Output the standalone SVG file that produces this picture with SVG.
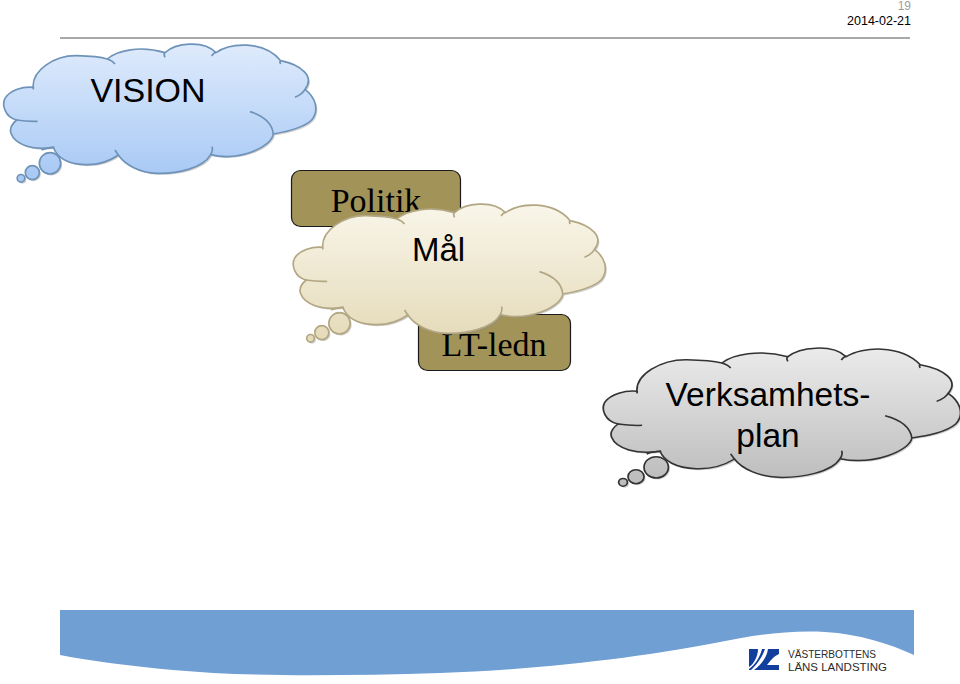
<svg xmlns="http://www.w3.org/2000/svg" xmlns:xlink="http://www.w3.org/1999/xlink" width="960" height="684" viewBox="0 0 960 684">
<style>
.sans{font-family:"Liberation Sans",Arial,sans-serif}
.serif{font-family:"Liberation Serif","Times New Roman",serif}
.lbl{text-anchor:middle;fill:#000}
.box{fill:#a29358;stroke:#1a1a1a;stroke-width:1.2}
.inner{fill:none}
.shadow{fill:#8a8a8a;stroke:none;opacity:.4}
</style>
<defs>
<linearGradient id="gBlue" gradientUnits="userSpaceOnUse" x1="0" y1="40" x2="0" y2="430"><stop offset="0" stop-color="#dfebfc"/><stop offset="1" stop-color="#a9caf5"/></linearGradient>
<linearGradient id="gBeige" gradientUnits="userSpaceOnUse" x1="0" y1="40" x2="0" y2="430"><stop offset="0" stop-color="#f9f6ea"/><stop offset="1" stop-color="#e6dcbc"/></linearGradient>
<linearGradient id="gGrey" gradientUnits="userSpaceOnUse" x1="0" y1="40" x2="0" y2="430"><stop offset="0" stop-color="#ebebeb"/><stop offset="1" stop-color="#bebebe"/></linearGradient>
<g id="cloudShape">
<path d="M100 178C92 120 165 76 230 77C270 78 305 82 322 87C350 62 420 45 495 68C525 40 610 28 648 68C690 38 790 30 842 92C905 105 945 140 915 178C945 200 960 240 935 270C910 295 860 305 820 312C815 350 720 395 632 374C610 415 530 432 470 430C420 428 375 405 355 375C320 400 280 405 255 404C200 402 170 380 160 352C100 362 45 345 33 310C28 295 38 280 50 270C15 262 5 225 15 205C30 180 70 168 100 172Z"/>
<circle cx="150" cy="400" r="32"/>
<circle cx="97" cy="428" r="21"/>
<circle cx="63" cy="445" r="11.5"/>
</g>
<g id="cloudInner" class="inner">
<path d="M885 202Q908 192 915 178"/>
<path d="M750 245Q815 265 820 312"/>
<path d="M632 374Q640 360 636 350"/>
<path d="M355 375Q348 365 345 360"/>
<path d="M163 352Q140 352 125 360"/>
<path d="M50 270Q80 275 113 274"/>
<path d="M322 87Q338 92 345 102"/>
<path d="M495 68Q490 72 495 82"/>
<path d="M648 66Q640 70 635 78"/>
<path d="M842 92Q838 95 842 102"/>
</g>
</defs>

<g id="connectors"></g>

<g id="header">
<line x1="60" y1="38" x2="910" y2="38" stroke="#a9a9a9" stroke-width="2"/>
<text class="sans" x="911" y="10" font-size="12" text-anchor="end" fill="#a0a0a0">19</text>
<text class="sans" x="911" y="25" font-size="12.500" text-anchor="end" fill="#000">2014-02-21</text>
</g>

<g id="footer">
<path d="M60 610H914V655C890 644 860 634 825 632C785 630 750 636 720 642C650 656 540 670 440 673C340 676 250 677 173 670C130 666 90 661 60 655Z" fill="#6f9fd3"/>
</g>

<g id="logo">
<path d="M749 649H758C758 656 754 664 749 667ZM762 649H765C763 656 756 666 751 670H749V669C755 665 760 657 762 649ZM768 649H779V654C774 656 770 661 767 665H779V670H754C761 665 767 657 768 649Z" fill="#123f9e"/>
<text class="sans" x="788" y="658" font-size="11" fill="#2b2b2b" textLength="88" lengthAdjust="spacingAndGlyphs">VÄSTERBOTTENS</text>
<text class="sans" x="788" y="671" font-size="11" fill="#2b2b2b" textLength="99" lengthAdjust="spacingAndGlyphs">LÄNS LANDSTING</text>
</g>

<g id="vision">
<g transform="translate(1.500,31.500) scale(.3333)"><use xlink:href="#cloudShape" href="#cloudShape" class="shadow"/></g>
<g transform="translate(0,30) scale(.3333)" fill="url(#gBlue)" stroke="#6f93b8" stroke-width="5"><use xlink:href="#cloudShape" href="#cloudShape"/><use xlink:href="#cloudInner" href="#cloudInner"/></g>
<text class="sans lbl" x="148" y="102" font-size="34">VISION</text>
</g>

<g id="politik">
<rect class="box" x="291.500" y="170.500" width="169" height="56" rx="9"/>
<text class="serif lbl" x="376" y="212" font-size="34">Politik</text>
</g>

<g id="lt-ledn">
<rect class="box" x="418.500" y="314.500" width="152" height="56" rx="9"/>
<text class="serif lbl" x="494" y="356" font-size="34">LT-ledn</text>
</g>

<g id="mal">
<g transform="translate(291,191.500) scale(.3333)"><use xlink:href="#cloudShape" href="#cloudShape" class="shadow"/></g>
<g transform="translate(289.500,190) scale(.3333)" fill="url(#gBeige)" stroke="#b3a783" stroke-width="5"><use xlink:href="#cloudShape" href="#cloudShape"/><use xlink:href="#cloudInner" href="#cloudInner"/></g>
<text class="sans lbl" x="438.500" y="261" font-size="33">Mål</text>
</g>

<g id="verksamhetsplan">
<g transform="translate(600.500,335.500) scale(.3815,.3333)"><use xlink:href="#cloudShape" href="#cloudShape" class="shadow"/></g>
<g transform="translate(599,334) scale(.3815,.3333)" fill="url(#gGrey)" stroke="#333" stroke-width="4.500"><use xlink:href="#cloudShape" href="#cloudShape"/><use xlink:href="#cloudInner" href="#cloudInner"/></g>
<text class="sans lbl" x="768" y="406" font-size="33.500">Verksamhets-</text>
<text class="sans lbl" x="768" y="447" font-size="33.500">plan</text>
</g>
</svg>
